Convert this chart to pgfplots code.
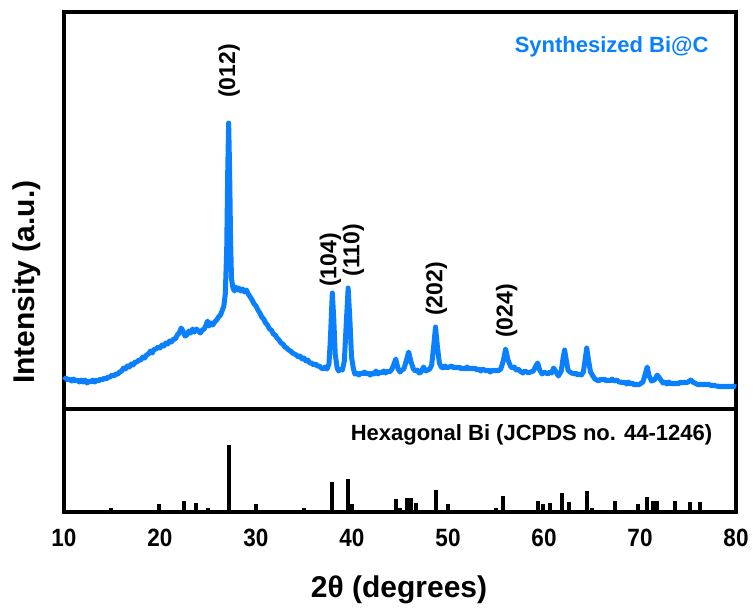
\documentclass[border=0pt]{standalone}
\usepackage{fontspec}
\setmainfont{Liberation Sans}
\newfontfamily\tickfont[FakeStretch=0.9]{Liberation Sans}
\usepackage{pgfplots}
\pgfplotsset{compat=1.18}
\definecolor{xrdblue}{RGB}{10,128,255}

\begin{document}
\begin{tikzpicture}[x=1pt,y=1pt]
\path[use as bounding box] (-32,-47.5) rectangle (344.5,256);
% bottom panel: reference sticks
\begin{axis}[at={(0pt,0pt)}, anchor=south west, scale only axis,
  width=336pt, height=51.5pt, xmin=10, xmax=80, ymin=0, ymax=103,
  xtick={10,20,...,80}, ytick=\empty, major tick length=0pt,
  axis line style={line width=2pt},
  /pgf/number format/assume math mode=true,
  xticklabel style={font=\tickfont\bfseries\fontsize{12.5}{14}\selectfont, anchor=base, yshift=-17pt},
  clip=false]
\addplot[ycomb, black, line width=2pt, mark=none] coordinates {
(14.9,3.8) (19.9,8) (22.47,11) (23.79,9.3) (25.0,3.8) (27.16,67) (30.0,8)
(35.0,3.8) (37.95,29.7) (39.62,32.7) (40.0,8) (44.56,12.7) (45.0,3.8)
(45.78,13.7) (46.1,13.7) (46.65,8.7) (48.7,21.7) (50.0,8) (55.0,3.8)
(55.75,16) (59.34,11) (59.9,8) (60.6,9) (61.9,18.7) (62.6,10.5)
(64.5,21.3) (65.0,3.8) (67.4,11) (69.75,8) (70.75,14.7) (71.4,11)
(71.8,11) (73.6,11) (75.2,9.7) (76.3,10)
};
\node[font=\bfseries\fontsize{11}{13}\selectfont] at (axis cs:58.7,77) {Hexagonal Bi (JCPDS no. 44-1246)};
\end{axis}
% top panel: measured pattern
\begin{axis}[at={(0pt,51.5pt)}, anchor=south west, scale only axis,
  width=336pt, height=198.5pt, xmin=10, xmax=80, ymin=0, ymax=397,
  xtick=\empty, ytick=\empty, axis line style={line width=2pt}, clip=false]
\addplot[xrdblue, line width=2.5pt, line join=round, mark=none] coordinates {
(10.0,29) (10.2,31) (10.4,29) (10.6,30) (10.8,28) (11.0,30) (11.2,28) (11.4,29)
(11.6,27) (11.8,29) (12.0,27) (12.2,29) (12.4,26) (12.6,28) (12.8,27) (13.0,29)
(13.2,27) (13.4,29) (13.6,28) (13.8,30) (14.0,29) (14.2,31) (14.4,30) (14.6,32)
(14.8,32) (15.0,34) (15.2,33) (15.4,35) (15.6,35) (15.8,37) (16.0,38) (16.2,41)
(16.4,40) (16.6,43) (16.8,42) (17.0,45) (17.2,44) (17.4,47) (17.6,47) (17.8,49)
(18.0,49) (18.2,52) (18.4,51) (18.6,54) (18.8,55) (19.0,58) (19.2,56) (19.4,60)
(19.6,60) (19.8,62) (20.0,61) (20.2,64) (20.4,63) (20.6,66) (20.8,65) (21.0,68)
(21.2,67) (21.4,70) (21.6,70) (21.8,74) (22.0,76) (22.2,81) (22.4,78) (22.6,73)
(22.8,74) (23.0,78) (23.2,76) (23.4,80) (23.6,77) (23.8,80) (24.0,78) (24.2,76)
(24.4,79) (24.6,80) (24.8,84) (24.95,88) (25.1,83) (25.3,86) (25.5,84) (25.7,87)
(25.9,89) (26.1,92) (26.3,94) (26.5,99) (26.65,103) (26.8,115)
(26.95,160) (27.05,235) (27.15,286) (27.25,240) (27.35,170) (27.45,130) (27.6,121)
(27.75,118) (27.9,122) (28.05,119) (28.2,121) (28.4,118) (28.6,120) (28.8,117)
(29.0,119) (29.2,115) (29.4,112) (29.6,109) (29.8,105) (30.0,103) (30.2,99)
(30.4,96) (30.6,92) (30.8,90) (31.0,86) (31.2,84) (31.4,80) (31.6,79)
(31.8,75) (32.0,74) (32.2,71) (32.4,69) (32.6,66) (32.8,65) (33.0,62) (33.2,61)
(33.4,59) (33.6,58) (33.8,56) (34.0,55) (34.2,54) (34.4,52) (34.6,53) (34.8,50)
(35.0,51) (35.2,48) (35.4,49) (35.6,46) (35.8,46) (36.0,44) (36.2,45) (36.4,43)
(36.6,43) (36.8,41) (37.0,40) (37.2,42) (37.4,40) (37.6,45) (37.75,70) (37.95,116)
(38.1,90) (38.25,55) (38.45,41) (38.6,38) (38.8,40) (39.0,39) (39.2,48) (39.4,85)
(39.6,121) (39.8,85) (39.95,52) (40.15,40) (40.3,35) (40.5,36) (40.7,34) (40.9,36)
(41.1,35) (41.3,37) (41.5,35) (41.7,36) (41.9,34) (42.1,36) (42.3,35) (42.5,38)
(42.7,35) (42.9,37) (43.1,36) (43.3,38) (43.5,36) (43.7,38) (43.9,37) (44.1,39)
(44.3,43) (44.56,50) (44.8,40) (45.0,37) (45.2,39) (45.4,40) (45.65,48) (45.9,57)
(46.15,47) (46.4,40) (46.6,38) (46.8,39) (47.0,36) (47.2,37) (47.45,42) (47.7,38)
(47.9,39) (48.1,40) (48.3,44) (48.5,62) (48.7,82) (48.9,62) (49.1,46) (49.3,42)
(49.5,41) (49.7,43) (49.9,41) (50.1,42) (50.4,43) (50.6,41) (50.8,42) (51.0,41)
(51.2,42) (51.4,40) (51.6,41) (51.8,40) (52.0,42) (52.2,40) (52.4,41) (52.6,40)
(52.8,41) (53.0,39) (53.2,40) (53.4,38) (53.6,40) (53.8,39) (54.0,38) (54.2,39)
(54.4,37) (54.6,39) (54.8,38) (55.0,39) (55.2,38) (55.5,40) (55.75,48) (56.0,60)
(56.25,49) (56.5,43) (56.7,41) (56.9,42) (57.1,39) (57.3,40) (57.5,38) (57.8,36)
(58.0,38) (58.2,37) (58.4,36) (58.6,37) (58.9,38) (59.15,43) (59.34,46) (59.55,39)
(59.8,35) (60.0,37) (60.2,36) (60.4,35) (60.6,37) (60.8,36) (61.0,41) (61.2,38)
(61.5,33) (61.8,38) (62.0,52) (62.15,59) (62.3,50) (62.5,39) (62.7,37) (62.9,36)
(63.1,35) (63.3,36) (63.5,34) (63.7,35) (63.9,34) (64.1,37) (64.25,47) (64.45,61)
(64.65,48) (64.85,37) (65.1,33) (65.3,30) (65.5,29) (65.7,28) (65.9,30) (66.1,29)
(66.3,30) (66.5,28) (66.7,29) (66.9,28) (67.1,30) (67.3,28) (67.6,29) (67.8,27)
(68.0,27) (68.2,26) (68.4,27) (68.6,25) (68.8,27) (69.0,25) (69.2,26) (69.4,24)
(69.6,25) (69.8,24) (70.0,25) (70.3,27) (70.55,35) (70.75,42) (70.95,33) (71.2,28)
(71.5,29) (71.8,34) (72.1,30) (72.4,26) (72.6,27) (72.8,25) (73.0,27) (73.2,25)
(73.4,26) (73.6,25) (73.8,26) (74.0,25) (74.2,27) (74.4,26) (74.6,27) (74.8,26)
(75.0,27) (75.3,29) (75.5,27) (75.7,26) (75.9,25) (76.1,24) (76.3,25) (76.5,24)
(76.7,25) (76.9,24) (77.1,25) (77.3,24) (77.5,23) (77.7,24) (77.9,23) (78.1,23)
(78.3,22) (78.5,23) (78.7,22) (78.9,23) (79.1,22) (79.3,23) (79.5,22) (79.7,23)
(80.0,22)
};
\node[rotate=90, font=\bfseries\fontsize{11.5}{13}\selectfont] at (axis cs:27.2,338) {(012)};
\node[rotate=90, font=\bfseries\fontsize{11.5}{13}\selectfont] at (axis cs:37.75,149) {(104)};
\node[rotate=90, font=\bfseries\fontsize{11.5}{13}\selectfont] at (axis cs:40.15,159) {(110)};
\node[rotate=90, font=\bfseries\fontsize{11.5}{13}\selectfont] at (axis cs:48.8,120) {(202)};
\node[rotate=90, font=\bfseries\fontsize{11.5}{13}\selectfont] at (axis cs:56.1,98) {(024)};
\node[font=\bfseries\fontsize{11}{13}\selectfont, text=xrdblue] at (axis cs:67.05,362) {Synthesized Bi@C};
\end{axis}
\node[rotate=90, font=\bfseries\fontsize{15}{18}\selectfont] at (-18.5,115) {Intensity (a.u.)};
\node[anchor=base, font=\bfseries\fontsize{15}{18}\selectfont] at (167.5,-42.8) {2θ (degrees)};
\end{tikzpicture}
\end{document}
